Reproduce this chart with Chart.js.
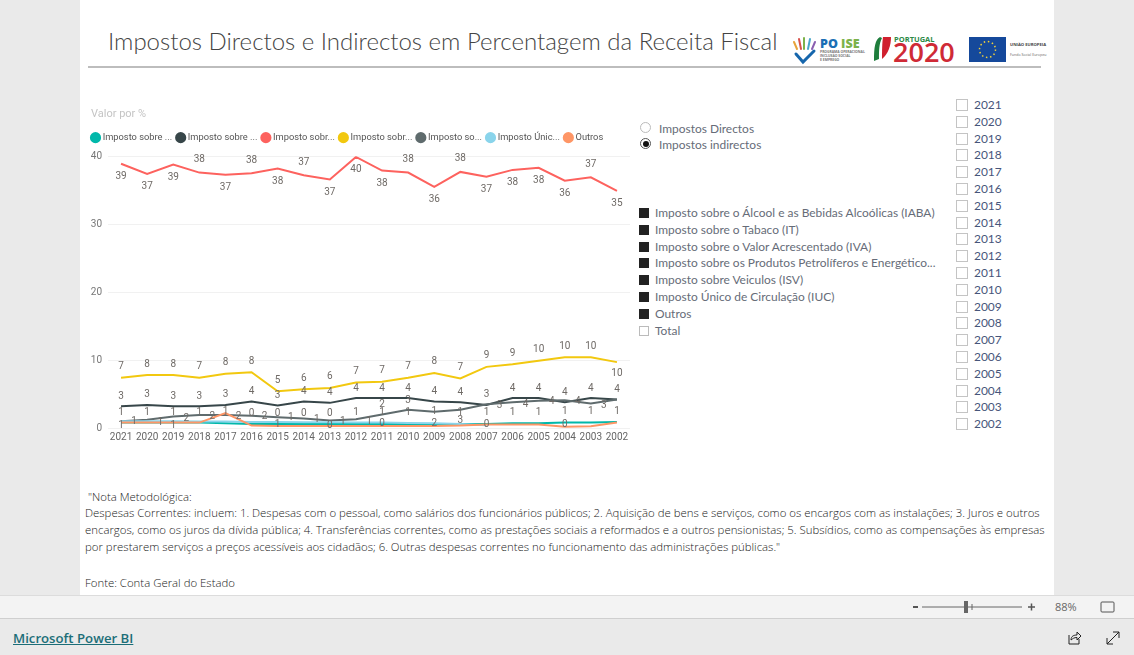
<!DOCTYPE html>
<html lang="pt">
<head>
  <meta charset="UTF-8" />
  <title>Impostos Directos e Indirectos em Percentagem da Receita Fiscal</title>
  <script src="https://cdn.jsdelivr.net/npm/chart.js"></script>
  <style>
    html, body { margin: 0; padding: 0; width: 1134px; height: 655px; overflow: hidden; background: #eaeaea; font-family: 'Open Sans', sans-serif; color: #4a4a4a; }
    .page { position: absolute; left: 80px; top: 0; width: 974px; height: 595px; background: #fff; }
    .abs { position: absolute; white-space: nowrap; line-height: 1; }
    #title { left: 108px; top: 29px; font-family: Lato, sans-serif; font-size: 24px; font-weight: 300; color: #444; }
    #rule { position: absolute; left: 88px; top: 66px; width: 953px; height: 2px; background: #bdbdbd; }
    #chartBox { position: absolute; left: 80px; top: 102px; width: 555px; height: 344px; }
    #eixo { left: 91px; top: 108px; font-family: Roboto, sans-serif; font-size: 11px; color: #c4c4c4; }
    .radio { position: absolute; left: 640px; width: 9px; height: 9px; border: 1px solid #bbb; border-radius: 50%; background: #fff; }
    .radio.on { border-color: #555; }
    .radio.on::after { content: ''; position: absolute; left: 1.5px; top: 1.5px; width: 6px; height: 6px; border-radius: 50%; background: #111; }
    .side { font-family: Lato, sans-serif; font-size: 11.95px; color: #666c78; }
    .sq { position: absolute; left: 639px; width: 10px; height: 10px; background: #222; }
    .sq.off { background: #fff; border: 1px solid #bbb; width: 8px; height: 8px; }
    .yr { position: absolute; left: 956px; width: 10px; height: 10px; border: 1px solid #c4c4c4; background: #fff; }
    .note { font-size: 11.4px; font-weight: 300; color: #222; left: 85px; }
    #bar1 { position: absolute; left: 0; top: 595px; width: 1134px; height: 22px; background: #f3f3f3; border-top: 1px solid #dcdcdc; border-bottom: 1px solid #cfcfcf; }
    #pbi { left: 13px; top: 632px; font-size: 13.2px; font-weight: 600; color: #1c6e78; text-decoration: underline; }
  </style>
</head>
<body>
  <div class="page"></div>
  <div class="abs" id="title">Impostos Directos e Indirectos em Percentagem da Receita Fiscal</div>
  <div id="rule"></div>

  <!-- logotipos -->
  <svg class="abs" style="left:790px;top:30px" width="262" height="36" viewBox="0 0 262 36">
    <g fill="none" stroke-width="2" stroke-linecap="round">
      <path d="M4 12l3 7" stroke="#e8a33a"/><path d="M9 9l2 10" stroke="#d8504a"/><path d="M14 8l0 11" stroke="#7cb24a"/><path d="M20 9l-2 10" stroke="#49a7c9"/><path d="M25 12l-3 7" stroke="#8a5fb0"/>
      <path d="M6 24l7 8 11-11" stroke="#1666ac" stroke-width="3"/>
    </g>
    <text x="30" y="18" font-family="Open Sans" font-size="12.500" font-weight="800" fill="#1b6fb5">PO <tspan fill="#7cb24a">ISE</tspan></text>
    <text x="30" y="23" font-family="Open Sans" font-size="3.400" font-weight="700" fill="#777">PROGRAMA OPERACIONAL</text>
    <text x="30" y="27" font-family="Open Sans" font-size="3.400" font-weight="700" fill="#777">INCLUSÃO SOCIAL</text>
    <text x="30" y="31" font-family="Open Sans" font-size="3.400" font-weight="700" fill="#777">E EMPREGO</text>
    <path d="M90 7c-5 3-6 10-6 24l5-2c0-9 0-15 3-21z" fill="#1e7d3c"/>
    <path d="M93 7h8c0 9-3 17-9 22 0-8 0-15 1-22z" fill="#d0202e"/>
    <text x="104" y="12" font-family="Open Sans" font-size="7.500" font-weight="700" fill="#2d8a46">PORTUGAL</text>
    <text x="103" y="32" font-family="Open Sans" font-size="27" font-weight="600" fill="#cf2a36">2020</text>
    <rect x="179" y="7" width="37" height="25" fill="#15499b"/>
    <circle cx="197.500" cy="19.500" r="8" fill="none" stroke="#f4d33a" stroke-width="1.500" stroke-dasharray="1.500 2.700"/>
    <text x="220" y="16" font-family="Open Sans" font-size="4.200" font-weight="700" fill="#444">UNIÃO EUROPEIA</text>
    <text x="220" y="26" font-family="Open Sans" font-size="3.600" fill="#666">Fundo Social Europeu</text>
  </svg>

  <div id="chartBox"><canvas id="chartImpostos"></canvas></div>
  <div class="abs" id="eixo">Valor por %</div>

  <span class="radio" style="top:122px"></span>
  <span class="radio on" style="top:138px"></span>
  <div class="abs side" style="left:659px;top:123px">Impostos Directos</div>
  <div class="abs side" style="left:659px;top:139px">Impostos indirectos</div>

  <div id="seriesList"></div>
  <div id="yearList"></div>

  <div class="abs note" style="top:491px;left:88px">"Nota Metodológica:</div>
  <div class="abs note" style="top:507px">Despesas Correntes: incluem: 1. Despesas com o pessoal, como salários dos funcionários públicos; 2. Aquisição de bens e serviços, como os encargos com as instalações; 3. Juros e outros</div>
  <div class="abs note" style="top:524px">encargos, como os juros da dívida pública; 4. Transferências correntes, como as prestações sociais a reformados e a outros pensionistas; 5. Subsídios, como as compensações às empresas</div>
  <div class="abs note" style="top:541px">por prestarem serviços a preços acessíveis aos cidadãos; 6. Outras despesas correntes no funcionamento das administrações públicas."</div>
  <div class="abs note" style="top:577px">Fonte: Conta Geral do Estado</div>

  <div id="bar1"></div>
  <svg class="abs" style="left:910px;top:598px" width="210" height="18" viewBox="0 0 210 18">
    <path d="M3 9h5" stroke="#555" stroke-width="2"/>
    <path d="M12 9h100" stroke="#666" stroke-width="1"/>
    <rect x="54" y="3" width="4" height="12" fill="#666"/><path d="M62 6v6" stroke="#666"/>
    <path d="M118 9h7M121.500 5.500v7" stroke="#555" stroke-width="1.500"/>
    <rect x="191" y="4" width="13" height="10" rx="1" fill="none" stroke="#555"/>
  </svg>
  <div class="abs" style="left:1055px;top:601px;font-size:11px;color:#666">88%</div>
  <div class="abs" id="pbi">Microsoft Power BI</div>
  <svg class="abs" style="left:1066px;top:630px" width="58" height="16" viewBox="0 0 58 16">
    <path d="M3 5v9h10V9M5 10c0-4 3-5 6-5V2l4 4-4 4V7.500c-3 0-4 1-6 2.500z" fill="none" stroke="#222"/>
    <path d="M41 14l12-12M47 2h6v6M41 8v6h6" fill="none" stroke="#222"/>
  </svg>

  <script>
    const anos = ['2021','2020','2019','2018','2017','2016','2015','2014','2013','2012','2011','2010','2009','2008','2007','2006','2005','2004','2003','2002'];

    const iaba = [0.8,0.8,0.8,0.8,0.7,0.6,0.6,0.6,0.6,0.6,0.6,0.6,0.6,0.6,0.6,0.7,0.7,0.8,0.8,0.9];
    const it = [3.2,3.4,3.2,3.2,3.4,3.9,3.3,3.9,3.7,4.4,4.4,4.4,3.9,3.8,3.4,4.4,4.4,3.8,4.4,4.2];
    const iva = [38.9,37.4,38.8,37.6,37.3,37.5,38.2,37.2,36.6,39.9,37.9,37.6,35.5,37.7,37.0,38.0,38.3,36.4,36.9,34.9];
    const isp = [7.4,7.8,7.8,7.4,8.0,8.2,5.4,5.7,5.9,6.7,6.8,7.4,8.1,7.3,9.0,9.4,9.9,10.4,10.4,9.7];
    const isv = [1.0,1.2,1.7,1.9,1.9,1.8,1.6,1.4,1.1,1.3,2.0,2.7,2.4,2.7,3.5,3.8,4.0,4.1,3.6,4.2];
    const iuc = [1.0,1.0,1.0,0.95,0.95,0.9,0.9,0.85,0.85,0.8,0.8,0.75,0.7,0.6,0.4,null,null,null,null,null];
    const outros = [0.8,0.8,0.8,0.8,2.2,0.35,0.3,0.3,0.3,0.3,0.3,0.3,0.3,0.35,0.5,0.5,0.5,0.2,0.25,0.8];

    const legendaCurta = ['Imposto sobre ...','Imposto sobre ...','Imposto sobr...','Imposto sobr...','Imposto so...','Imposto Únic...','Outros'];
    const categorias = ['Imposto sobre o Álcool e as Bebidas Alcoólicas (IABA)','Imposto sobre o Tabaco (IT)','Imposto sobre o Valor Acrescentado (IVA)','Imposto sobre os Produtos Petrolíferos e Energético...','Imposto sobre Veiculos (ISV)','Imposto Único de Circulação (IUC)','Outros','Total'];
    const ticksY = [0, 10, 20, 30, 40];

    // rotulos das series de cima: -1 por cima da linha, 1 por baixo
    const ladoIva = [1,1,1,-1,1,-1,1,-1,1,1,1,-1,1,-1,1,1,1,1,-1,1];
    const ladoIsp = [-1,-1,-1,-1,-1,-1,-1,-1,-1,-1,-1,-1,-1,-1,-1,-1,-1,-1,-1,1];
    const ladoIt = anos.map(() => -1);

    // rotulos das linhas de baixo, que no original ficam desencontrados: [indice, nivel, texto]
    const rotulosBaixos = [
      [0,2.3,'1'],[1,2.3,'1'],[2,2.3,'1'],[3,2.35,'1'],[4,2.5,'1'],[5,2.2,'0'],[6,2.2,'0'],[7,2.2,'0'],[8,2.2,'0'],[9,2.3,'1'],
      [0.5,1.03,'1'],[1.5,0.88,'1'],[2.5,1.42,'2'],[3.5,1.76,'2'],[4.5,1.76,'2'],[5.5,1.71,'2'],[6.5,1.52,'1'],[7.5,1.27,'1'],[8.5,1.03,'1'],[9.5,1.03,'1'],
      [0,0.44,'1'],[2,0.44,'1'],[6,0.49,'1'],[8,0.44,'0'],
      [10,3.48,'2'],[10,2.25,'1'],[10,0.69,'0'],[11,4.07,'3'],[11,2.25,'1'],[12,2.4,'1'],[12,0.64,'2'],[13,2.25,'1'],[13,1.13,'3'],
      [14,2.25,'1'],[14,0.49,'0'],[14.5,3.24,'3'],[15,2.25,'1'],[15.5,3.48,'4'],[16,2.25,'1'],[16.5,3.87,'4'],[17,2.4,'1'],[17,0.49,'0'],
      [17.5,3.87,'4'],[18,2.4,'1'],[18.5,3.38,'3'],[19,2.4,'1']
    ];

    const sl = document.getElementById('seriesList');
    categorias.forEach((c, i) => {
      const y = 213 + i * 16.8;
      sl.insertAdjacentHTML('beforeend',
        `<span class="sq ${c === 'Total' ? 'off' : ''}" style="top:${y - 5}px"></span>` +
        `<div class="abs side" style="left:655px;top:${y - 6}px">${c}</div>`);
    });
    const yl = document.getElementById('yearList');
    anos.forEach((a, i) => {
      const y = 105 + i * 16.8;
      yl.insertAdjacentHTML('beforeend',
        `<span class="yr" style="top:${y - 6}px"></span>` +
        `<div class="abs side" style="left:974px;top:${y - 6}px;color:#47557a">${a}</div>`);
    });

    const rotulos = {
      id: 'rotulos',
      afterDatasetsDraw(chart) {
        const { ctx, scales: { x, y } } = chart;
        ctx.save();
        ctx.font = '10px Roboto, sans-serif';
        ctx.fillStyle = '#6f6a66';
        ctx.textAlign = 'center';
        ctx.textBaseline = 'middle';
        [[iva, ladoIva, 13], [isp, ladoIsp, 11], [it, ladoIt, 10]].forEach(([serie, lado, d]) => {
          serie.forEach((v, i) => {
            ctx.fillText(String(Math.round(v)), x.getPixelForValue(i), y.getPixelForValue(v) + lado[i] * d);
          });
        });
        rotulosBaixos.forEach(([i, nivel, txt]) => {
          ctx.fillText(txt, x.getPixelForValue(i), y.getPixelForValue(nivel));
        });
        ctx.restore();
      }
    };

    // mais espaco entre a legenda e a area do grafico
    const folgaLegenda = {
      id: 'folgaLegenda',
      afterInit(chart) {
        const fitOriginal = chart.legend.fit;
        chart.legend.fit = function () {
          fitOriginal.call(this);
          this.height += 4;
        };
      }
    };

    function serie(label, data, cor, ordem) {
      return { label, data, borderColor: cor, backgroundColor: cor, borderWidth: 2, pointRadius: 0, tension: 0, spanGaps: false, order: ordem };
    }

    new Chart(document.getElementById('chartImpostos'), {
      type: 'line',
      data: {
        labels: anos,
        datasets: [
          serie(legendaCurta[0], iaba, '#01b8aa', 7),
          serie(legendaCurta[1], it, '#374649', 6),
          serie(legendaCurta[2], iva, '#fd625e', 5),
          serie(legendaCurta[3], isp, '#f2c80f', 4),
          serie(legendaCurta[4], isv, '#5f6b6d', 3),
          serie(legendaCurta[5], iuc, '#8ad4eb', 2),
          serie(legendaCurta[6], outros, '#fe9666', 1)
        ]
      },
      options: {
        responsive: true,
        maintainAspectRatio: false,
        animation: false,
        layout: { padding: { left: 7, right: 5, top: 25, bottom: 0 } },
        plugins: {
          legend: {
            position: 'top',
            align: 'start',
            labels: {
              usePointStyle: true,
              pointStyle: 'circle',
              boxWidth: 5,
              boxHeight: 6.5,
              padding: 6,
              color: '#555',
              font: { family: 'Roboto, sans-serif', size: 9.3 },
              sort: (a, b) => a.datasetIndex - b.datasetIndex
            }
          },
          tooltip: { enabled: false }
        },
        scales: {
          x: {
            offset: true,
            grid: { display: false, drawTicks: false },
            border: { display: false },
            ticks: { color: '#666', font: { family: 'Roboto, sans-serif', size: 10 }, autoSkip: false, maxRotation: 0, padding: 3 }
          },
          y: {
            min: 0,
            max: 40,
            afterFit(scale) { scale.width = 21; },
            afterBuildTicks(scale) { scale.ticks = ticksY.map(v => ({ value: v })); },
            grid: { color: '#f1f1f1', drawTicks: false },
            border: { display: false },
            ticks: { color: '#777', font: { family: 'Roboto, sans-serif', size: 10 }, padding: 6 }
          }
        }
      },
      plugins: [rotulos, folgaLegenda]
    });
  </script>
</body>
</html>
